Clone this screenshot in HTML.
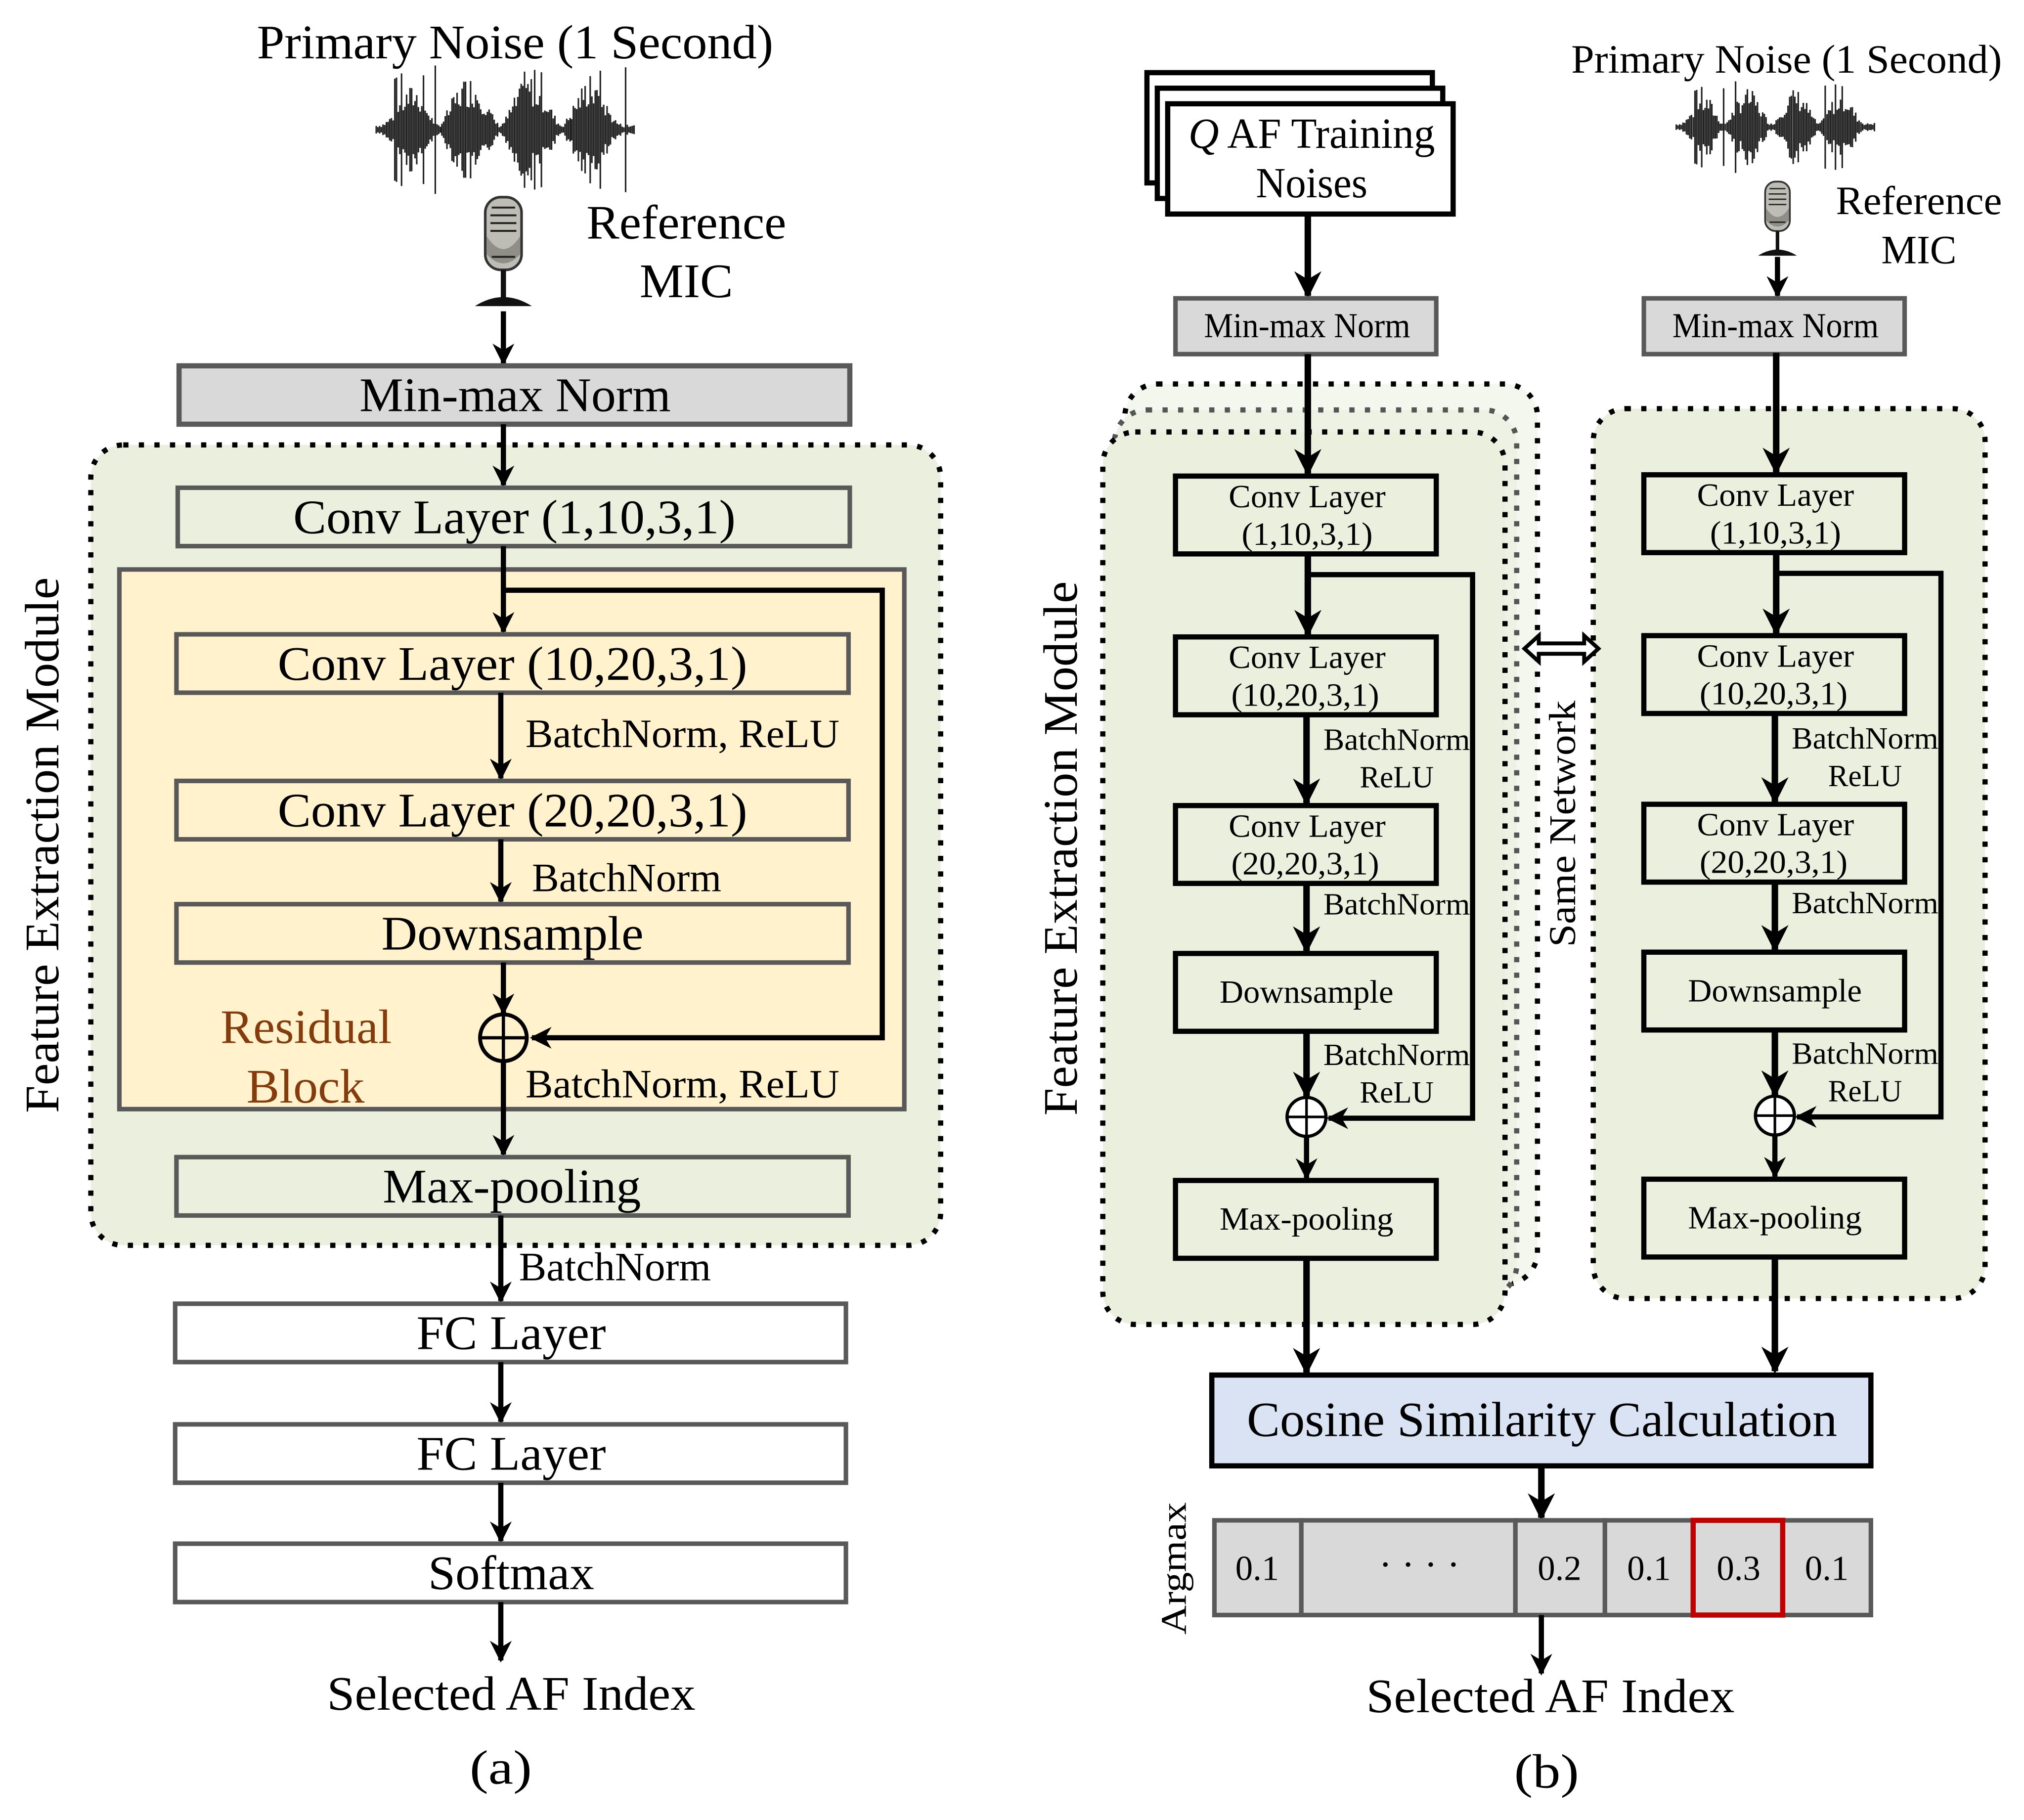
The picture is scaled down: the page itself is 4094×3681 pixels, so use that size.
<!DOCTYPE html>
<html><head><meta charset="utf-8"><style>
html,body{margin:0;padding:0;background:#fff;}
svg{display:block;}
text{font-family:"Liberation Serif",serif;fill:#000;}
</style></head><body>
<svg id="s" width="4094" height="3681" viewBox="0 0 1560 1403" preserveAspectRatio="none" xmlns="http://www.w3.org/2000/svg">
<defs>
<marker id="ah" viewBox="0 0 10 10" refX="9" refY="5" markerWidth="4.2" markerHeight="4.2" orient="auto" markerUnits="strokeWidth"><path d="M0,0 L10,5 L0,10 L3,5 z" fill="#000"/></marker>
<g id="mic">
<rect x="-14" y="0" width="28" height="56" rx="12" fill="#bdbdb5" stroke="#333" stroke-width="2"/>
<path d="M-13,30 Q0,50 13,30 L13,44 Q0,58 -13,44z" fill="#8f8f88"/>
<g stroke="#222" stroke-width="1.5"><line x1="-9" y1="8" x2="9" y2="8"/><line x1="-10" y1="14" x2="10" y2="14"/><line x1="-10" y1="20" x2="10" y2="20"/><line x1="-10" y1="26" x2="10" y2="26"/><line x1="-9" y1="46" x2="9" y2="46"/></g>
<line x1="0" y1="56" x2="0" y2="78" stroke="#111" stroke-width="4"/>
<path d="M-22,84 Q0,70 22,84z" fill="#111"/>
</g>
</defs>

<!-- ============ (a) ============ -->
<text x="198" y="45" font-size="37" textLength="398" lengthAdjust="spacingAndGlyphs">Primary Noise (1 Second)</text>
<g id="wa"></g>
<use href="#mic" x="388" y="152"/>
<text x="452" y="184" font-size="37" textLength="154" lengthAdjust="spacingAndGlyphs">Reference</text>
<text x="493" y="229" font-size="37" textLength="72" lengthAdjust="spacingAndGlyphs">MIC</text>
<line x1="388" y1="240" x2="388" y2="280" stroke="#000" stroke-width="4" marker-end="url(#ah)"/>
<rect x="138" y="282" width="517" height="45" fill="#d9d9d9" stroke="#595959" stroke-width="4"/>
<text x="277" y="317" font-size="37" textLength="240" lengthAdjust="spacingAndGlyphs">Min-max Norm</text>

<rect x="70" y="343" width="655" height="617" rx="25" fill="#ebf0de" stroke="#000" stroke-width="4" stroke-dasharray="4,8"/>
<line x1="388" y1="327" x2="388" y2="374" stroke="#000" stroke-width="4" marker-end="url(#ah)"/>
<rect x="137" y="376" width="518" height="45" fill="#ebf0de" stroke="#595959" stroke-width="3.5"/>
<text x="226" y="411" font-size="37" textLength="341" lengthAdjust="spacingAndGlyphs">Conv Layer (1,10,3,1)</text>

<rect x="92" y="439" width="605" height="416" fill="#fff2cc" stroke="#595959" stroke-width="3.5"/>
<line x1="388" y1="421" x2="388" y2="487" stroke="#000" stroke-width="4" marker-end="url(#ah)"/>
<polyline points="388,455 680,455 680,800 410,800" fill="none" stroke="#000" stroke-width="4" marker-end="url(#ah)"/>
<rect x="136" y="489" width="518" height="45" fill="#fff2cc" stroke="#595959" stroke-width="3.5"/>
<text x="214" y="524" font-size="37" textLength="362" lengthAdjust="spacingAndGlyphs">Conv Layer (10,20,3,1)</text>
<line x1="386" y1="534" x2="386" y2="600" stroke="#000" stroke-width="4" marker-end="url(#ah)"/>
<text x="405" y="576" font-size="31" textLength="242" lengthAdjust="spacingAndGlyphs">BatchNorm, ReLU</text>
<rect x="136" y="602" width="518" height="45" fill="#fff2cc" stroke="#595959" stroke-width="3.5"/>
<text x="214" y="637" font-size="37" textLength="362" lengthAdjust="spacingAndGlyphs">Conv Layer (20,20,3,1)</text>
<line x1="386" y1="647" x2="386" y2="695" stroke="#000" stroke-width="4" marker-end="url(#ah)"/>
<text x="410" y="687" font-size="31" textLength="146" lengthAdjust="spacingAndGlyphs">BatchNorm</text>
<rect x="136" y="697" width="518" height="45" fill="#fff2cc" stroke="#595959" stroke-width="3.5"/>
<text x="294" y="732" font-size="37" textLength="202" lengthAdjust="spacingAndGlyphs">Downsample</text>
<line x1="388" y1="742" x2="388" y2="781" stroke="#000" stroke-width="4" marker-end="url(#ah)"/>
<circle cx="388" cy="800" r="18" fill="#fff2cc" stroke="#000" stroke-width="3"/>
<line x1="370" y1="800" x2="406" y2="800" stroke="#000" stroke-width="2.5"/>
<line x1="388" y1="782" x2="388" y2="818" stroke="#000" stroke-width="2.5"/>
<text x="170" y="804" font-size="37" textLength="132" lengthAdjust="spacingAndGlyphs" style="fill:#843c0c">Residual</text>
<text x="190" y="850" font-size="37" textLength="91" lengthAdjust="spacingAndGlyphs" style="fill:#843c0c">Block</text>
<text x="405" y="846" font-size="31" textLength="242" lengthAdjust="spacingAndGlyphs">BatchNorm, ReLU</text>
<line x1="388" y1="818" x2="388" y2="890" stroke="#000" stroke-width="4" marker-end="url(#ah)"/>
<rect x="136" y="892" width="518" height="45" fill="#ebf0de" stroke="#595959" stroke-width="3.5"/>
<text x="295" y="927" font-size="37" textLength="199" lengthAdjust="spacingAndGlyphs">Max-pooling</text>
<text transform="translate(45,858) rotate(-90)" font-size="37" textLength="413" lengthAdjust="spacingAndGlyphs">Feature Extraction Module</text>

<line x1="386" y1="937" x2="386" y2="1003" stroke="#000" stroke-width="4" marker-end="url(#ah)"/>
<text x="400" y="987" font-size="31" textLength="148" lengthAdjust="spacingAndGlyphs">BatchNorm</text>
<rect x="135" y="1005" width="517" height="45" fill="#fff" stroke="#595959" stroke-width="3.5"/>
<text x="321" y="1040" font-size="37" textLength="146" lengthAdjust="spacingAndGlyphs">FC Layer</text>
<line x1="386" y1="1050" x2="386" y2="1096" stroke="#000" stroke-width="4" marker-end="url(#ah)"/>
<rect x="135" y="1098" width="517" height="45" fill="#fff" stroke="#595959" stroke-width="3.5"/>
<text x="321" y="1133" font-size="37" textLength="146" lengthAdjust="spacingAndGlyphs">FC Layer</text>
<line x1="386" y1="1143" x2="386" y2="1188" stroke="#000" stroke-width="4" marker-end="url(#ah)"/>
<rect x="135" y="1190" width="517" height="45" fill="#fff" stroke="#595959" stroke-width="3.5"/>
<text x="330" y="1225" font-size="37" textLength="128" lengthAdjust="spacingAndGlyphs">Softmax</text>
<line x1="386" y1="1235" x2="386" y2="1280" stroke="#000" stroke-width="4" marker-end="url(#ah)"/>
<text x="252" y="1318" font-size="37" textLength="284" lengthAdjust="spacingAndGlyphs">Selected AF Index</text>
<text x="362" y="1375" font-size="37" textLength="48" lengthAdjust="spacingAndGlyphs">(a)</text>

<!-- ============ (b) ============ -->
<rect x="884" y="56" width="220" height="85" fill="#fff" stroke="#000" stroke-width="4"/>
<rect x="892" y="68" width="220" height="85" fill="#fff" stroke="#000" stroke-width="4"/>
<rect x="900" y="80" width="220" height="85" fill="#fff" stroke="#000" stroke-width="4"/>
<text x="916" y="114" font-size="33" textLength="190" lengthAdjust="spacingAndGlyphs"><tspan font-style="italic">Q</tspan> AF Training</text>
<text x="968" y="152" font-size="33" textLength="86" lengthAdjust="spacingAndGlyphs">Noises</text>
<line x1="1008" y1="165" x2="1008" y2="228" stroke="#000" stroke-width="5" marker-end="url(#ah)"/>
<rect x="906" y="230" width="201" height="43" fill="#d9d9d9" stroke="#595959" stroke-width="3.5"/>
<text x="928" y="260" font-size="27" textLength="159" lengthAdjust="spacingAndGlyphs">Min-max Norm</text>

<text x="1211" y="56" font-size="31" textLength="332" lengthAdjust="spacingAndGlyphs">Primary Noise (1 Second)</text>
<g id="wb"></g>
<use href="#mic" transform="translate(1370,140) scale(0.68)"/>
<text x="1415" y="165" font-size="31" textLength="128" lengthAdjust="spacingAndGlyphs">Reference</text>
<text x="1450" y="203" font-size="31" textLength="58" lengthAdjust="spacingAndGlyphs">MIC</text>
<line x1="1370" y1="198" x2="1370" y2="228" stroke="#000" stroke-width="4" marker-end="url(#ah)"/>
<rect x="1267" y="230" width="201" height="43" fill="#d9d9d9" stroke="#595959" stroke-width="3.5"/>
<text x="1289" y="260" font-size="27" textLength="159" lengthAdjust="spacingAndGlyphs">Min-max Norm</text>

<!-- stacked dotted containers -->
<rect x="867" y="296" width="318" height="694" rx="25" fill="#f4f7ee" stroke="#000" stroke-width="4" stroke-dasharray="4,8"/>
<rect x="859" y="316" width="310" height="684" rx="25" fill="#eef2e4" stroke="#555" stroke-width="4" stroke-dasharray="4,8"/>
<rect x="850" y="333" width="310" height="688" rx="25" fill="#ebf0de" stroke="#000" stroke-width="4" stroke-dasharray="4,8"/>
<rect x="1228" y="315" width="302" height="686" rx="25" fill="#ebf0de" stroke="#000" stroke-width="4" stroke-dasharray="4,8"/>

<g id="col">
<line x1="1008" y1="273" x2="1008" y2="365" stroke="#000" stroke-width="5" marker-end="url(#ah)"/>
<rect x="906" y="367" width="201" height="60" fill="#ebf0de" stroke="#000" stroke-width="4"/>
<text x="947" y="391" font-size="25" textLength="121" lengthAdjust="spacingAndGlyphs">Conv Layer</text>
<text x="957" y="420" font-size="25" textLength="101" lengthAdjust="spacingAndGlyphs">(1,10,3,1)</text>
<line x1="1008" y1="427" x2="1008" y2="489" stroke="#000" stroke-width="5" marker-end="url(#ah)"/>
<polyline points="1008,443 1135,443 1135,862 1024,862" fill="none" stroke="#000" stroke-width="4" marker-end="url(#ah)"/>
<rect x="906" y="491" width="201" height="60" fill="#ebf0de" stroke="#000" stroke-width="4"/>
<text x="947" y="515" font-size="25" textLength="121" lengthAdjust="spacingAndGlyphs">Conv Layer</text>
<text x="949" y="544" font-size="25" textLength="114" lengthAdjust="spacingAndGlyphs">(10,20,3,1)</text>
<line x1="1007" y1="551" x2="1007" y2="619" stroke="#000" stroke-width="5" marker-end="url(#ah)"/>
<text x="1020" y="578" font-size="24" textLength="113" lengthAdjust="spacingAndGlyphs">BatchNorm</text>
<text x="1048" y="607" font-size="24" textLength="57" lengthAdjust="spacingAndGlyphs">ReLU</text>
<rect x="906" y="621" width="201" height="60" fill="#ebf0de" stroke="#000" stroke-width="4"/>
<text x="947" y="645" font-size="25" textLength="121" lengthAdjust="spacingAndGlyphs">Conv Layer</text>
<text x="949" y="674" font-size="25" textLength="114" lengthAdjust="spacingAndGlyphs">(20,20,3,1)</text>
<line x1="1007" y1="681" x2="1007" y2="733" stroke="#000" stroke-width="5" marker-end="url(#ah)"/>
<text x="1020" y="705" font-size="24" textLength="113" lengthAdjust="spacingAndGlyphs">BatchNorm</text>
<rect x="906" y="735" width="201" height="60" fill="#ebf0de" stroke="#000" stroke-width="4"/>
<text x="940" y="773" font-size="25" textLength="134" lengthAdjust="spacingAndGlyphs">Downsample</text>
<line x1="1007" y1="795" x2="1007" y2="845" stroke="#000" stroke-width="5" marker-end="url(#ah)"/>
<text x="1020" y="821" font-size="24" textLength="113" lengthAdjust="spacingAndGlyphs">BatchNorm</text>
<text x="1048" y="850" font-size="24" textLength="57" lengthAdjust="spacingAndGlyphs">ReLU</text>
<circle cx="1007" cy="861" r="15" fill="#fff" stroke="#000" stroke-width="2.5"/>
<line x1="992" y1="861" x2="1022" y2="861" stroke="#000" stroke-width="2"/>
<line x1="1007" y1="846" x2="1007" y2="876" stroke="#000" stroke-width="2"/>
<line x1="1007" y1="876" x2="1007" y2="908" stroke="#000" stroke-width="4" marker-end="url(#ah)"/>
<rect x="906" y="910" width="201" height="60" fill="#ebf0de" stroke="#000" stroke-width="4"/>
<text x="940" y="948" font-size="25" textLength="134" lengthAdjust="spacingAndGlyphs">Max-pooling</text>
<line x1="1007" y1="970" x2="1007" y2="1058" stroke="#000" stroke-width="5" marker-end="url(#ah)"/>
</g>
<use href="#col" x="361" y="-1"/>

<path d="M1175,500 L1186,490 L1186,496 L1221,496 L1221,490 L1232,500 L1221,510 L1221,504 L1186,504 L1186,510 z" fill="#fff" stroke="#000" stroke-width="3"/>
<text transform="translate(1214,730) rotate(-90)" font-size="29" textLength="190" lengthAdjust="spacingAndGlyphs">Same Network</text>
<text transform="translate(830,860) rotate(-90)" font-size="37" textLength="412" lengthAdjust="spacingAndGlyphs">Feature Extraction Module</text>

<rect x="934" y="1060" width="508" height="70" fill="#dae3f3" stroke="#000" stroke-width="4"/>
<text x="961" y="1107" font-size="38" textLength="455" lengthAdjust="spacingAndGlyphs">Cosine Similarity Calculation</text>
<line x1="1188" y1="1130" x2="1188" y2="1170" stroke="#000" stroke-width="5" marker-end="url(#ah)"/>

<g stroke="#595959" stroke-width="3.5" fill="#d9d9d9">
<rect x="936" y="1172" width="67" height="73"/>
<rect x="1003" y="1172" width="165" height="73"/>
<rect x="1168" y="1172" width="69" height="73"/>
<rect x="1237" y="1172" width="68" height="73"/>
<rect x="1374" y="1172" width="68" height="73"/>
</g>
<rect x="1305" y="1172" width="69" height="73" fill="#d9d9d9" stroke="#c00000" stroke-width="4"/>
<g font-size="27" text-anchor="middle">
<text x="969" y="1218">0.1</text>
<text x="1094" y="1216" font-size="30">· · · ·</text>
<text x="1202" y="1218">0.2</text>
<text x="1271" y="1218">0.1</text>
<text x="1340" y="1218">0.3</text>
<text x="1408" y="1218">0.1</text>
</g>
<text transform="translate(914,1260) rotate(-90)" font-size="28" textLength="102" lengthAdjust="spacingAndGlyphs">Argmax</text>
<line x1="1188" y1="1245" x2="1188" y2="1290" stroke="#000" stroke-width="4" marker-end="url(#ah)"/>
<text x="1053" y="1320" font-size="37" textLength="284" lengthAdjust="spacingAndGlyphs">Selected AF Index</text>
<text x="1167" y="1378" font-size="37" textLength="50" lengthAdjust="spacingAndGlyphs">(b)</text>
</svg>
<script>
(function(){
function wave(id,x0,x1,cy,amp){
 var g=document.getElementById(id),d="",n=Math.round((x1-x0)/1.3),seed=7;
 function r(){seed=(seed*9301+49297)%233280;return seed/233280;}
 for(var i=0;i<n;i++){
  var t=i/n,x=x0+(x1-x0)*t;
  var env=0.1+0.9*Math.pow(Math.abs(Math.sin(t*Math.PI*4.2)),1.5)*Math.min(1,Math.sin(t*Math.PI)*2);
  var a=amp*env*(0.4+0.6*r());
  if(r()>0.95)a=amp*(0.9+0.3*r());
  d+="M"+x.toFixed(1)+","+(cy-a).toFixed(1)+"V"+(cy+a).toFixed(1);
 }
 var p=document.createElementNS("http://www.w3.org/2000/svg","path");
 p.setAttribute("d",d);p.setAttribute("stroke","#222");p.setAttribute("stroke-width","1.2");
 g.appendChild(p);
}
wave("wa",290,490,100,42);
wave("wb",1292,1446,98,30);
})();
</script>
</body></html>
